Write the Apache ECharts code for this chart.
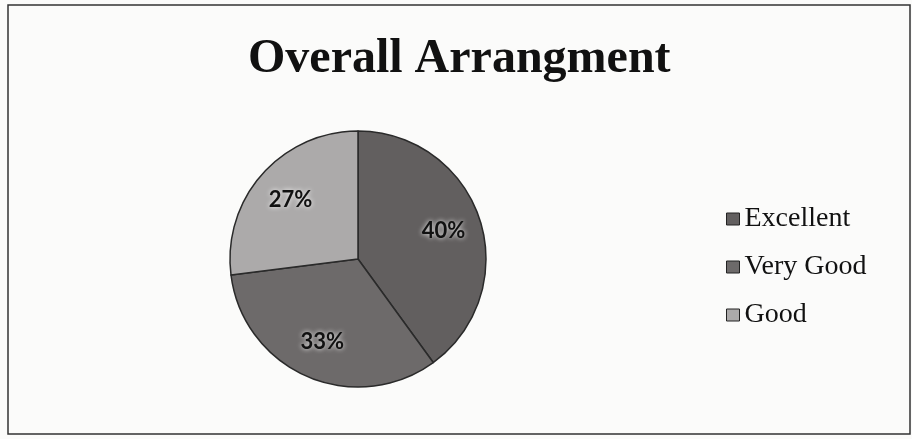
<!DOCTYPE html>
<html>
<head>
<meta charset="utf-8">
<style>html,body{margin:0;padding:0;background:#fbfbfa;}#chart{width:912px;height:439px;}</style>
<script src="https://cdn.jsdelivr.net/npm/echarts@6/dist/echarts.min.js"></script>
</head>
<body>
<div id="chart"></div>
<script>
const titleText = 'Overall Arrangment';
const categories = ['Excellent', 'Very Good', 'Good'];
const values = [40, 33, 27];
const colors = ['#625f5f', '#6d6a6a', '#acaaaa'];

const chart = echarts.init(document.getElementById('chart'), null, {renderer: 'canvas'});
const data = categories.map((c, i) => ({name: c, value: values[i], itemStyle: {color: colors[i]}}));
chart.setOption({
  backgroundColor: '#fbfbfa',
  animation: false,
  title: {
    text: titleText,
    left: 243,
    top: 31,
    textStyle: {fontFamily: 'Liberation Serif', fontWeight: 'bold', fontSize: 48, color: '#111'}
  },
  legend: {
    orient: 'vertical',
    left: 721,
    top: 200,
    itemWidth: 13,
    itemHeight: 12,
    itemGap: 20,
    icon: 'rect',
    data: categories,
    itemStyle: {borderColor: '#222', borderWidth: 1},
    textStyle: {fontFamily: 'Liberation Serif', fontSize: 28, color: '#111', lineHeight: 28}
  },
  graphic: [{
    type: 'rect', shape: {x: 8, y: 5, width: 902, height: 429},
    style: {fill: 'none', stroke: '#333', lineWidth: 1.5}, silent: true
  }],
  series: [{
    type: 'pie',
    center: [358, 259],
    radius: [0, 128],
    startAngle: 90,
    clockwise: true,
    label: {show: false},
    labelLine: {show: false},
    itemStyle: {borderColor: '#2a2a2a', borderWidth: 1.5},
    emphasis: {disabled: true},
    data: data
  }, {
    type: 'pie',
    center: [358, 259],
    radius: [46, 128],
    startAngle: 90,
    clockwise: true,
    silent: true,
    itemStyle: {color: 'transparent', borderWidth: 0},
    label: {
      show: true, position: 'inside',
      formatter: p => p.value + '%',
      fontFamily: 'Lato', fontWeight: 'bold', fontSize: 22, color: '#111',
      textShadowColor: 'rgba(255,255,255,0.95)', textShadowBlur: 5
    },
    labelLine: {show: false},
    emphasis: {disabled: true},
    data: categories.map((c, i) => ({name: c, value: values[i]}))
  }]
});
</script>
</body>
</html>
